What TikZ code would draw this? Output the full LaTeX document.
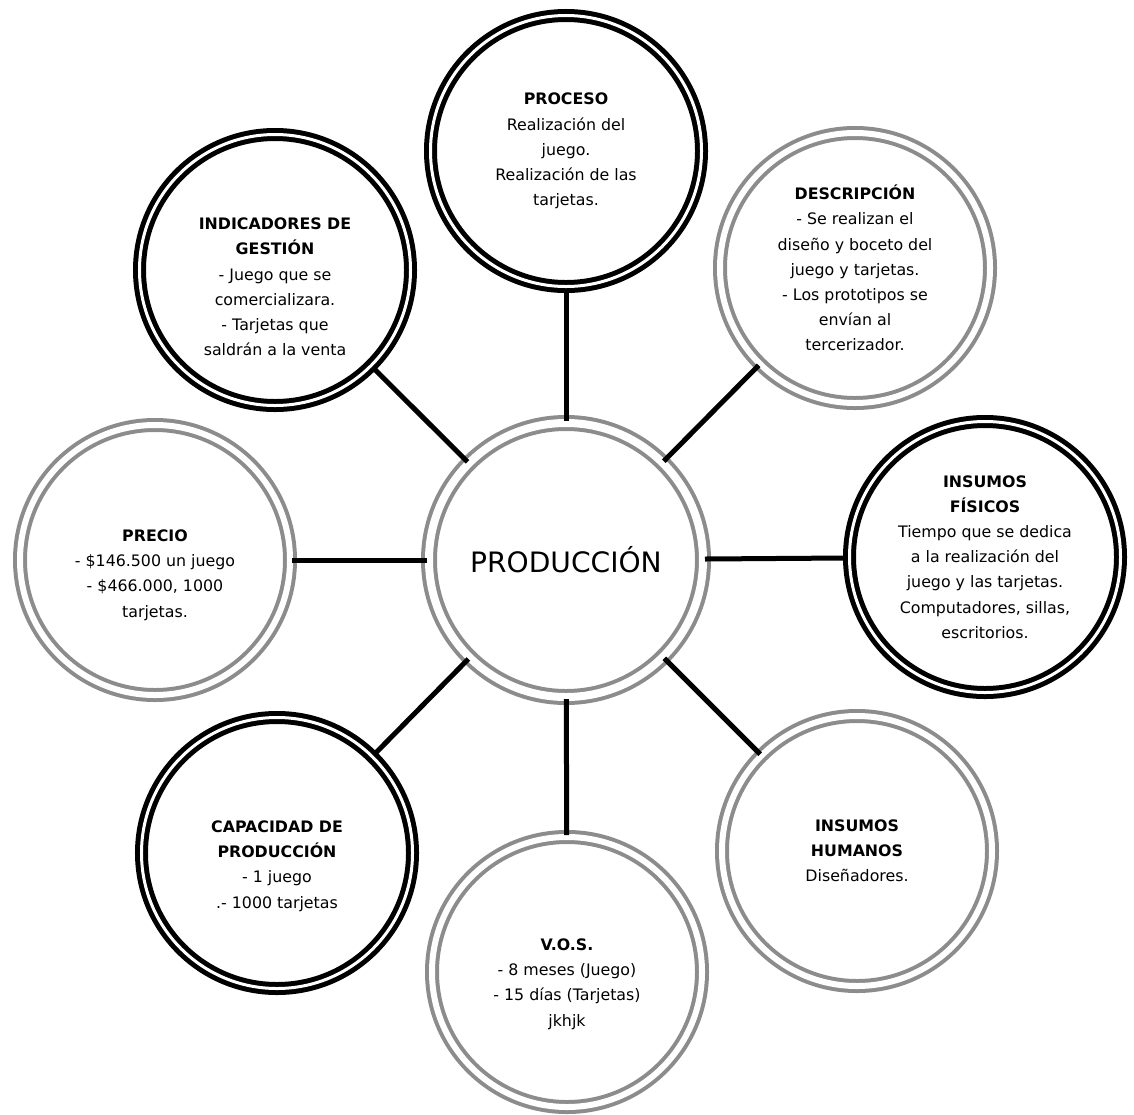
\documentclass[tikz,border=0pt]{standalone}
\usepackage{fontspec}
\setmainfont{DejaVu Sans}

\tikzset{
  ring/.style={circle, inner sep=0pt, align=center, double=white,
    font=\fontsize{13.5}{21.5}\selectfont},
  blackring/.style={ring, draw=black, line width=0.15cm, double distance=0.09cm, minimum size=8.13cm},
  grayring/.style={ring, draw=black!45, line width=0.12cm, double distance=0.18cm, minimum size=8.1cm},
  link/.style={line width=0.15cm, black},
}

\begin{document}
\begin{tikzpicture}[x=0.03cm, y=-0.03cm]

    \useasboundingbox (0,0) rectangle (1134,1115);

    % centre
    \node[grayring, line width=0.12cm, double distance=0.24cm, minimum size=8.22cm,
          font=\fontsize{24}{28}\selectfont] (prod) at (566,560) {PRODUCCIÓN};

    % satellites
    \node[blackring] (proc) at (566,151) {\textbf{PROCESO}\\Realización del\\juego.\\Realización de las\\tarjetas.};
    \node[grayring]  (desc) at (855,268) {\textbf{DESCRIPCIÓN}\\- Se realizan el\\diseño y boceto del\\juego y tarjetas.\\- Los prototipos se\\envían al\\tercerizador.};
    \node[blackring] (fis)  at (985,557) {\textbf{INSUMOS}\\\textbf{FÍSICOS}\\Tiempo que se dedica\\a la realización del\\juego y las tarjetas.\\Computadores, sillas,\\escritorios.};
    \node[grayring]  (hum)  at (857,851) {\textbf{INSUMOS}\\\textbf{HUMANOS}\\Diseñadores.};
    \node[grayring, text height=3.34cm]  (vos)  at (567,972) {\textbf{V.O.S.}\\- 8 meses (Juego)\\- 15 días (Tarjetas)\\jkhjk};
    \node[blackring, text height=3.4cm]  (cap)  at (277,853) {\textbf{CAPACIDAD DE}\\\textbf{PRODUCCIÓN}\\- 1 juego\\.- 1000 tarjetas};
    \node[grayring, text height=3.52cm]  (pre)  at (155,560) {\textbf{PRECIO}\\- \$146.500 un juego\\- \$466.000, 1000\\tarjetas.};
    \node[blackring, text height=5.15cm] (ind)  at (275,270) {\textbf{INDICADORES DE}\\\textbf{GESTIÓN}\\- Juego que se\\comercializara.\\- Tarjetas que\\saldrán a la venta};

    % spokes
    \foreach \s in {proc, desc, fis, hum, vos, cap, pre, ind} {
      \draw[link] (prod) -- (\s);
    }

\end{tikzpicture}
\end{document}
